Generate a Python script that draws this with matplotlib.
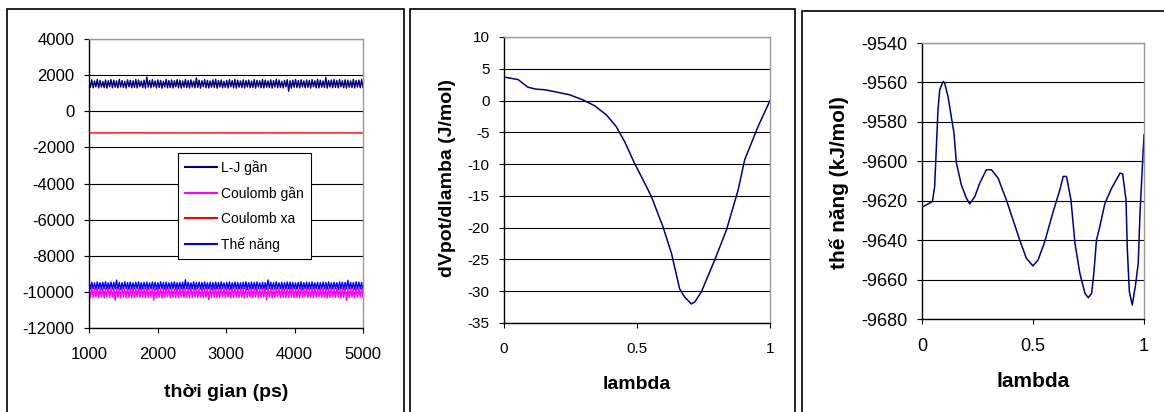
import numpy as np
import matplotlib
matplotlib.use("Agg")
import matplotlib.pyplot as plt
from matplotlib.patches import Rectangle

plt.rcParams["font.family"] = ["Liberation Sans", "DejaVu Sans"]
plt.rcParams["axes.unicode_minus"] = False

# panel 1: energy terms vs time (ps), one sample every ~20 ps
lj_near = [1700, 1320, 1740, 1300, 1680, 1350, 1760, 1290, 1710, 1340,
           1650, 1310, 1730, 1280, 1690, 1360, 1750, 1300, 1720, 1330,
           1680, 1290, 1770, 1340, 1700, 1310, 1660, 1280, 1740, 1350,
           1710, 1300, 1690, 1320, 1760, 1290, 1730, 1360, 1670, 1310,
           1720, 1280, 1900, 1330, 1700, 1300, 1750, 1350, 1680, 1290,
           1740, 1320, 1710, 1280, 1660, 1340, 1770, 1300, 1700, 1310,
           1730, 1290, 1690, 1350, 1750, 1300, 1720, 1280, 1680, 1330,
           1760, 1310, 1700, 1290, 1740, 1340, 1670, 1300, 1850, 1320,
           1720, 1280, 1690, 1350, 1750, 1300, 1710, 1290, 1680, 1330,
           1740, 1310, 1770, 1280, 1700, 1340, 1730, 1300, 1660, 1320,
           1710, 1290, 1750, 1350, 1690, 1300, 1760, 1280, 1720, 1330,
           1680, 1310, 1740, 1290, 1700, 1340, 1730, 1300, 1670, 1320,
           1750, 1280, 1710, 1350, 1690, 1300, 1760, 1290, 1720, 1330,
           1680, 1310, 1740, 1280, 1700, 1340, 1770, 1300, 1730, 1320,
           1660, 1290, 1710, 1350, 1750, 1100, 1690, 1280, 1720, 1330,
           1760, 1310, 1700, 1290, 1740, 1340, 1680, 1300, 1730, 1320,
           1710, 1280, 1750, 1350, 1690, 1300, 1770, 1290, 1720, 1330,
           1680, 1310, 1880, 1280, 1700, 1340, 1730, 1300, 1760, 1320,
           1710, 1290, 1750, 1350, 1690, 1300, 1740, 1280, 1720, 1330,
           1680, 1310, 1770, 1290, 1700, 1340, 1730, 1300, 1760, 1320]
coul_near = [-9800, -10310, -9760, -10330, -9820, -10290, -9780, -10320, -9840, -10300,
             -9790, -10340, -9810, -10280, -9770, -10320, -9830, -10300, -9800, -10460,
             -9760, -10310, -9820, -10330, -9790, -10290, -9840, -10320, -9780, -10300,
             -9810, -10340, -9770, -10310, -9830, -10280, -9800, -10320, -9760, -10300,
             -9820, -10330, -9790, -10310, -9840, -10290, -9780, -10470, -9810, -10320,
             -9770, -10300, -9830, -10340, -9800, -10310, -9760, -10280, -9820, -10320,
             -9790, -10300, -9840, -10330, -9780, -10310, -9810, -10290, -9770, -10320,
             -9830, -10300, -9800, -10340, -9760, -10310, -9820, -10280, -9790, -10320,
             -9840, -10300, -9780, -10330, -9810, -10310, -9770, -10440, -9830, -10320,
             -9800, -10300, -9760, -10340, -9820, -10310, -9790, -10280, -9840, -10320,
             -9780, -10300, -9810, -10330, -9770, -10310, -9830, -10290, -9800, -10320,
             -9760, -10300, -9820, -10340, -9790, -10310, -9840, -10280, -9780, -10320,
             -9810, -10300, -9770, -10330, -9830, -10310, -9800, -10290, -9760, -10450,
             -9820, -10300, -9790, -10340, -9840, -10310, -9780, -10280, -9810, -10320,
             -9770, -10300, -9830, -10330, -9800, -10310, -9760, -10290, -9820, -10320,
             -9790, -10300, -9840, -10340, -9780, -10310, -9810, -10280, -9770, -10320,
             -9830, -10300, -9800, -10330, -9760, -10310, -9820, -10290, -9790, -10320,
             -9840, -10300, -9780, -10340, -9810, -10310, -9770, -10280, -9830, -10320,
             -9800, -10300, -9760, -10330, -9820, -10310, -9790, -10460, -9840, -10320,
             -9780, -10300, -9810, -10340, -9770, -10310, -9830, -10290, -9800, -10320]
coul_far = [-1200, -1196, -1204, -1200, -1198, -1202, -1200]
pot_energy = [-9480, -9840, -9460, -9820, -9500, -9850, -9450, -9830, -9490, -9860,
              -9470, -9820, -9440, -9840, -9500, -9830, -9460, -9850, -9480, -9820,
              -9350, -9840, -9470, -9860, -9490, -9830, -9450, -9820, -9480, -9850,
              -9460, -9840, -9500, -9830, -9470, -9820, -9440, -9860, -9490, -9840,
              -9480, -9830, -9460, -9850, -9500, -9820, -9450, -9840, -9470, -9860,
              -9490, -9830, -9440, -9820, -9480, -9850, -9460, -9840, -9500, -9830,
              -9470, -9820, -9450, -9860, -9490, -9840, -9480, -9830, -9460, -9850,
              -9330, -9820, -9470, -9840, -9500, -9830, -9440, -9860, -9490, -9820,
              -9460, -9850, -9480, -9840, -9450, -9830, -9500, -9820, -9470, -9860,
              -9490, -9840, -9460, -9830, -9480, -9850, -9440, -9820, -9500, -9840,
              -9470, -9830, -9450, -9860, -9490, -9820, -9460, -9850, -9480, -9840,
              -9500, -9830, -9470, -9820, -9440, -9860, -9490, -9840, -9460, -9830,
              -9480, -9850, -9450, -9820, -9500, -9840, -9470, -9830, -9490, -9860,
              -9340, -9820, -9460, -9850, -9480, -9840, -9440, -9830, -9500, -9820,
              -9470, -9860, -9490, -9840, -9450, -9830, -9460, -9850, -9480, -9820,
              -9500, -9840, -9470, -9830, -9440, -9860, -9490, -9820, -9460, -9850,
              -9480, -9840, -9450, -9830, -9500, -9820, -9470, -9860, -9490, -9840,
              -9460, -9830, -9480, -9850, -9440, -9820, -9500, -9840, -9470, -9830,
              -9490, -9860, -9450, -9820, -9460, -9850, -9480, -9840, -9360, -9830,
              -9470, -9820, -9490, -9860, -9440, -9840, -9460, -9830, -9480, -9850]
series_names = ["L-J gần", "Coulomb gần", "Coulomb xa", "Thế năng"]
series_colors = ["#000080", "#FF00FF", "#FF0000", "#0000FF"]

# panel 2: dVpot/dlambda vs lambda
lam_dv = [0.0, 0.053, 0.09, 0.12, 0.153, 0.19, 0.247, 0.297, 0.34, 0.385, 0.422, 0.454, 0.491,
          0.523, 0.554, 0.598, 0.63, 0.66, 0.679, 0.704, 0.717, 0.742, 0.792, 0.836, 0.88,
          0.905, 0.955, 1.0]
dvdl = [3.7, 3.3, 2.1, 1.8, 1.7, 1.4, 0.9, 0.1, -0.8, -2.25, -4.1, -6.5, -9.9, -12.5, -15.1,
        -19.9, -24.1, -29.6, -30.9, -32.0, -31.7, -30.1, -25.1, -20.4, -14.1, -9.3, -4.1, 0.0]

# panel 3: potential energy vs lambda
lam_pot = [0.0, 0.047, 0.057, 0.072, 0.08, 0.095, 0.102, 0.117, 0.144, 0.155, 0.177, 0.2, 0.215,
           0.238, 0.26, 0.29, 0.313, 0.343, 0.38, 0.41, 0.44, 0.47, 0.5, 0.523, 0.553, 0.591,
           0.621, 0.636, 0.651, 0.671, 0.689, 0.711, 0.734, 0.749, 0.764, 0.774, 0.786, 0.801,
           0.824, 0.854, 0.892, 0.904, 0.919, 0.925, 0.934, 0.947, 0.962, 0.974, 0.982, 1.0]
pot_lam = [-9623.3, -9620.4, -9612.8, -9573.9, -9563.7, -9559.5, -9560.3, -9567.1, -9585.7,
           -9600.9, -9611.9, -9618.7, -9621.6, -9617.9, -9611.1, -9604.3, -9604.3, -9608.6,
           -9619.6, -9629.7, -9639.9, -9649.2, -9653.1, -9650.0, -9640.7, -9625.5, -9614.5,
           -9607.7, -9607.7, -9619.6, -9641.6, -9656.8, -9667.0, -9669.2, -9667.0, -9656.8,
           -9639.9, -9633.1, -9621.3, -9613.7, -9606.0, -9606.4, -9619.6, -9645.0, -9666.1,
           -9672.9, -9662.7, -9651.7, -9626.3, -9586.6]

fig = plt.figure(figsize=(11.64, 4.12), dpi=100)

# panel frames like the pasted excel charts
for x0, x1, top in [(7, 404, 9), (410, 795, 9), (802, 1200, 11)]:
    fig.add_artist(Rectangle((x0 / 1164, -0.05), (x1 - x0) / 1164, 1.05 - top / 412,
                             transform=fig.transFigure, fill=False, ec="black", lw=1.2))


def style_axes(ax, size, ypad, xpad):
    for s in ["top", "right"]:
        ax.spines[s].set_color("#999999")
        ax.spines[s].set_linewidth(1.0)
    for s in ["left", "bottom"]:
        ax.spines[s].set_color("black")
        ax.spines[s].set_linewidth(1.0)
    ax.yaxis.grid(True, color="black", lw=0.8)
    ax.set_axisbelow(True)
    ax.tick_params(axis="y", direction="out", length=3.5, width=0.8, labelsize=size, pad=ypad)
    ax.tick_params(axis="x", direction="out", length=3.5, width=0.8, labelsize=size, pad=xpad)


# left panel
ax1 = fig.add_axes([89 / 1164, 1 - 328 / 412, 274 / 1164, 289 / 412])
for vals, name, col in zip([lj_near, coul_near, coul_far, pot_energy], series_names, series_colors):
    t = np.linspace(1000, 5000, len(vals))
    ax1.plot(t, vals, color=col, lw=1.0, label=name)
ax1.set_xlim(1000, 5000)
ax1.set_ylim(-12000, 4000)
ax1.set_xticks([1000, 2000, 3000, 4000, 5000])
ax1.set_yticks(np.arange(-12000, 4001, 2000))
style_axes(ax1, 12, 7, 10)
ax1.set_xlabel("thời gian (ps)", fontsize=14, fontweight="bold", va="center")
ax1.xaxis.set_label_coords(0.5, -0.222)
leg = ax1.legend(loc="upper left", bbox_to_anchor=(0.325, 0.606), fontsize=10, frameon=True,
                 fancybox=False, framealpha=1, edgecolor="black", labelspacing=0.8,
                 handlelength=2.3, handletextpad=0.3, borderpad=0.5, borderaxespad=0)
leg.get_frame().set_linewidth(0.8)
for line in leg.get_lines():
    line.set_linewidth(1.5)

# middle panel
ax2 = fig.add_axes([504 / 1164, 1 - 323 / 412, 266 / 1164, 286 / 412])
ax2.plot(lam_dv, dvdl, color="#000080", lw=1.1)
ax2.set_xlim(0, 1)
ax2.set_ylim(-35, 10)
ax2.set_xticks([0, 0.5, 1])
ax2.set_xticklabels(["0", "0.5", "1"])
ax2.set_yticks(np.arange(-35, 11, 5))
style_axes(ax2, 11, 7, 10)
ax2.set_xlabel("lambda", fontsize=14, fontweight="bold", va="center")
ax2.xaxis.set_label_coords(0.5, -0.215)
ax2.set_ylabel("dVpot/dlamba (J/mol)", fontsize=14, fontweight="bold", va="center")
ax2.yaxis.set_label_coords(-0.214, 0.507)

# right panel
ax3 = fig.add_axes([922 / 1164, 1 - 319 / 412, 222 / 1164, 276 / 412])
ax3.plot(lam_pot, pot_lam, color="#000080", lw=1.1)
ax3.set_xlim(0, 1)
ax3.set_ylim(-9680, -9540)
ax3.set_xticks([0, 0.5, 1])
ax3.set_xticklabels(["0", "0.5", "1"])
ax3.set_yticks(np.arange(-9680, -9539, 20))
style_axes(ax3, 13, 7, 10)
ax3.set_xlabel("lambda", fontsize=15, fontweight="bold", va="center")
ax3.xaxis.set_label_coords(0.5, -0.228)
ax3.set_ylabel("thế năng (kJ/mol)", fontsize=15, fontweight="bold", va="center")
ax3.yaxis.set_label_coords(-0.374, 0.496)

fig.savefig("out.png", dpi=100)
